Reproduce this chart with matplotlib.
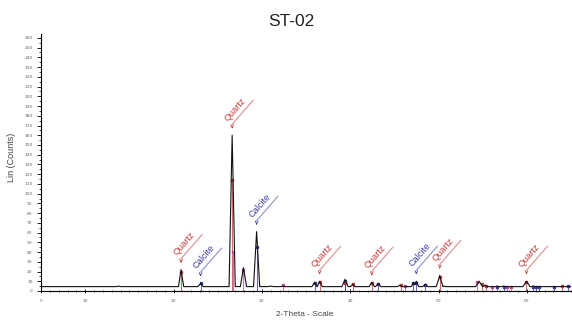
import numpy as np
import matplotlib.pyplot as plt
from matplotlib.ticker import MultipleLocator

# Diffractogram of sample ST-02 (counts vs 2-theta)
baseline_x = np.arange(5.0, 65.01, 0.5)
baseline_y = [
    2.5, 4.0, 4.5, 2.6, 3.6, 2.0, 3.4, 2.3, 3.8, 1.9, 3.1,
    2.3, 3.6, 2.0, 3.4, 2.4, 3.9, 2.1, 3.6, 2.5, 3.8, 2.2,
    3.4, 2.1, 3.6, 2.4, 4.0, 2.4, 3.7, 4.1, 2.6, 3.9, 2.7,
    3.8, 2.4, 4.0, 2.7, 4.3, 2.8, 3.9, 2.5, 4.1, 2.9, 4.4,
    4.6, 3.6, 4.0, 3.2, 4.3, 3.1, 3.8, 2.9, 4.5, 3.0, 3.7,
    4.0, 2.6, 3.9, 2.5, 4.0, 2.7, 4.2, 2.8, 2.4, 3.9, 2.6,
    3.8, 2.5, 4.1, 2.7, 3.9, 2.4, 4.0, 2.6, 3.8, 2.3, 3.9,
    2.7, 3.3, 4.0, 2.6, 3.8, 2.2, 3.7, 2.5, 4.1, 2.6, 3.8,
    2.4, 3.9, 2.6, 3.7, 2.3, 3.8, 2.5, 4.0, 2.6, 2.2, 3.7,
    3.9, 2.6, 2.4, 3.8, 2.5, 4.0, 2.7, 2.3, 3.7, 2.6, 3.9,
    3.6, 2.4, 3.8, 2.5, 3.7, 2.2, 3.5, 3.9, 2.4, 3.6, 2.5,
]

peak_pos = [13.8, 20.86, 23.06, 26.64, 27.92, 29.41, 31.0, 32.4, 35.97, 36.54,
            39.42, 40.29, 42.45, 43.16, 45.6, 47.15, 47.5, 48.5, 50.14, 50.6,
            54.6, 55.3, 56.6, 57.4, 59.96, 60.7, 63.1, 64.1]
peak_height = [5, 22, 8, 160, 24, 61, 5, 5, 9, 10,
               12, 7, 9, 8, 6, 9, 10, 7, 16, 5,
               10, 6, 5, 5, 10, 5, 4.5, 5]
peak_halfwidth = [0.3, 0.3, 0.3, 0.35, 0.35, 0.35, 0.35, 0.25, 0.3, 0.3,
                  0.35, 0.25, 0.3, 0.3, 0.3, 0.25, 0.25, 0.3, 0.4, 0.25,
                  0.4, 0.25, 0.25, 0.25, 0.4, 0.35, 0.25, 0.25]

# reference sticks of the identified phases
quartz_pos = [20.86, 26.64, 36.54, 39.47, 40.29, 42.45, 45.79, 50.14, 54.87, 55.33, 59.96, 64.03]
quartz_int = [20, 114, 9, 8, 7, 8, 6, 14, 7, 5, 9, 5]
calcite_pos = [23.06, 29.41, 35.97, 39.40, 43.16, 47.12, 47.49, 48.51, 56.57, 57.40,
               60.67, 61.0, 61.4, 63.06, 64.67]
calcite_int = [8, 45, 8, 10, 7, 8, 8, 6, 4, 4, 4, 4, 4, 4, 5]
albite_pos = [26.7, 27.92, 32.4, 46.2, 54.4, 56.0, 57.8, 58.2]
albite_int = [40, 22, 6, 5, 9, 4, 4, 4]

# phase labels: text, 2-theta, peak top
labels = ["Quartz", "Calcite", "Quartz", "Calcite", "Quartz", "Quartz", "Calcite", "Quartz", "Quartz"]
label_pos = [20.86, 23.06, 26.64, 29.41, 36.54, 42.45, 47.49, 50.14, 59.96]
label_top = [22, 8, 160, 61, 10, 9, 10, 16, 10]

RED = "#c23a3a"
BLUE = "#3a3a9e"
PINK = "#c0509a"
colors = {"Quartz": (RED, "#dd9a9a"), "Calcite": (BLUE, "#9a9ad6")}

# build the profile: noisy baseline with triangular peaks on top
xs = np.concatenate([baseline_x, peak_pos,
                     np.array(peak_pos) - np.array(peak_halfwidth),
                     np.array(peak_pos) + np.array(peak_halfwidth)])
xs = np.unique(xs)
ys = np.interp(xs, baseline_x, baseline_y)
for p, h, w in zip(peak_pos, peak_height, peak_halfwidth):
    base = np.interp(p, baseline_x, baseline_y)
    tri = base + (h - base) * np.clip(1 - np.abs(xs - p) / w, 0, None)
    ys = np.maximum(ys, tri)

fig = plt.figure(figsize=(5.72, 3.2), dpi=100)
ax = fig.add_axes([41 / 572, 29 / 320, 530 / 572, 257 / 320])
ax.set_xlim(5, 65)
ax.set_ylim(0, 264)

for pos, ints, c in [(quartz_pos, quartz_int, RED), (calcite_pos, calcite_int, BLUE),
                     (albite_pos, albite_int, PINK)]:
    ax.vlines(pos, 0, ints, colors=c, lw=0.8, alpha=0.75, zorder=2)
    ax.plot(pos, ints, "s", color=c, ms=1.6, zorder=3, lw=0)

ax.plot(xs, ys, color="#111111", lw=0.8, zorder=4)

fig.canvas.draw()
to_data = ax.transData.inverted()

# arrow + slanted leader + rotated name above each identified peak
for name, px, top in zip(labels, label_pos, label_top):
    tc, lc = colors[name]
    x0, y0 = ax.transData.transform((px, top))
    tip = (x0, y0 + 4)
    base = (x0, y0 + 11)
    end = (x0 + 21, y0 + 35)
    tip_d, base_d, end_d = to_data.transform([tip, base, end])
    ax.annotate("", xy=tip_d, xytext=base_d,
                arrowprops=dict(arrowstyle="->", color=tc, lw=0.6, mutation_scale=5))
    ax.plot([base_d[0], end_d[0]], [base_d[1], end_d[1]], color=lc, lw=0.9)
    anchor = to_data.transform([(base[0] - 2.5, base[1] + 1.5)])[0]
    ax.text(anchor[0], anchor[1], name, color=tc, fontsize=6.6, rotation=49,
            rotation_mode="anchor", ha="left", va="bottom", family="Liberation Sans")

ax.spines["top"].set_visible(False)
ax.spines["right"].set_visible(False)
for s in ("left", "bottom"):
    ax.spines[s].set_linewidth(0.8)

ax.xaxis.set_minor_locator(MultipleLocator(1))
ax.yaxis.set_minor_locator(MultipleLocator(5))
ax.set_xticks([5, 10, 20, 30, 40, 50, 60])
ax.set_yticks(np.arange(0, 261, 10))
ax.tick_params(axis="both", which="major", labelsize=3.2, labelcolor="#666666",
               length=3, width=0.6)
ax.tick_params(axis="both", which="minor", length=1.8, width=0.5)
ax.tick_params(axis="x", which="both", direction="inout", pad=4)
ax.tick_params(axis="y", pad=3)

fig.text(0.509, 1 - 21 / 320, "ST-02", ha="center", va="center", fontsize=12.5,
         family="Liberation Sans", color="#222222")
fig.text(305 / 572, 1 - 314 / 320, "2-Theta - Scale", ha="center", va="center",
         fontsize=6, family="Liberation Sans", color="#444444")
fig.text(12 / 572, 1 - 157 / 320, "Lin (Counts)", ha="center", va="center",
         rotation=90, fontsize=6.5, family="Liberation Sans", color="#444444")

fig.savefig("out.png", dpi=100)
